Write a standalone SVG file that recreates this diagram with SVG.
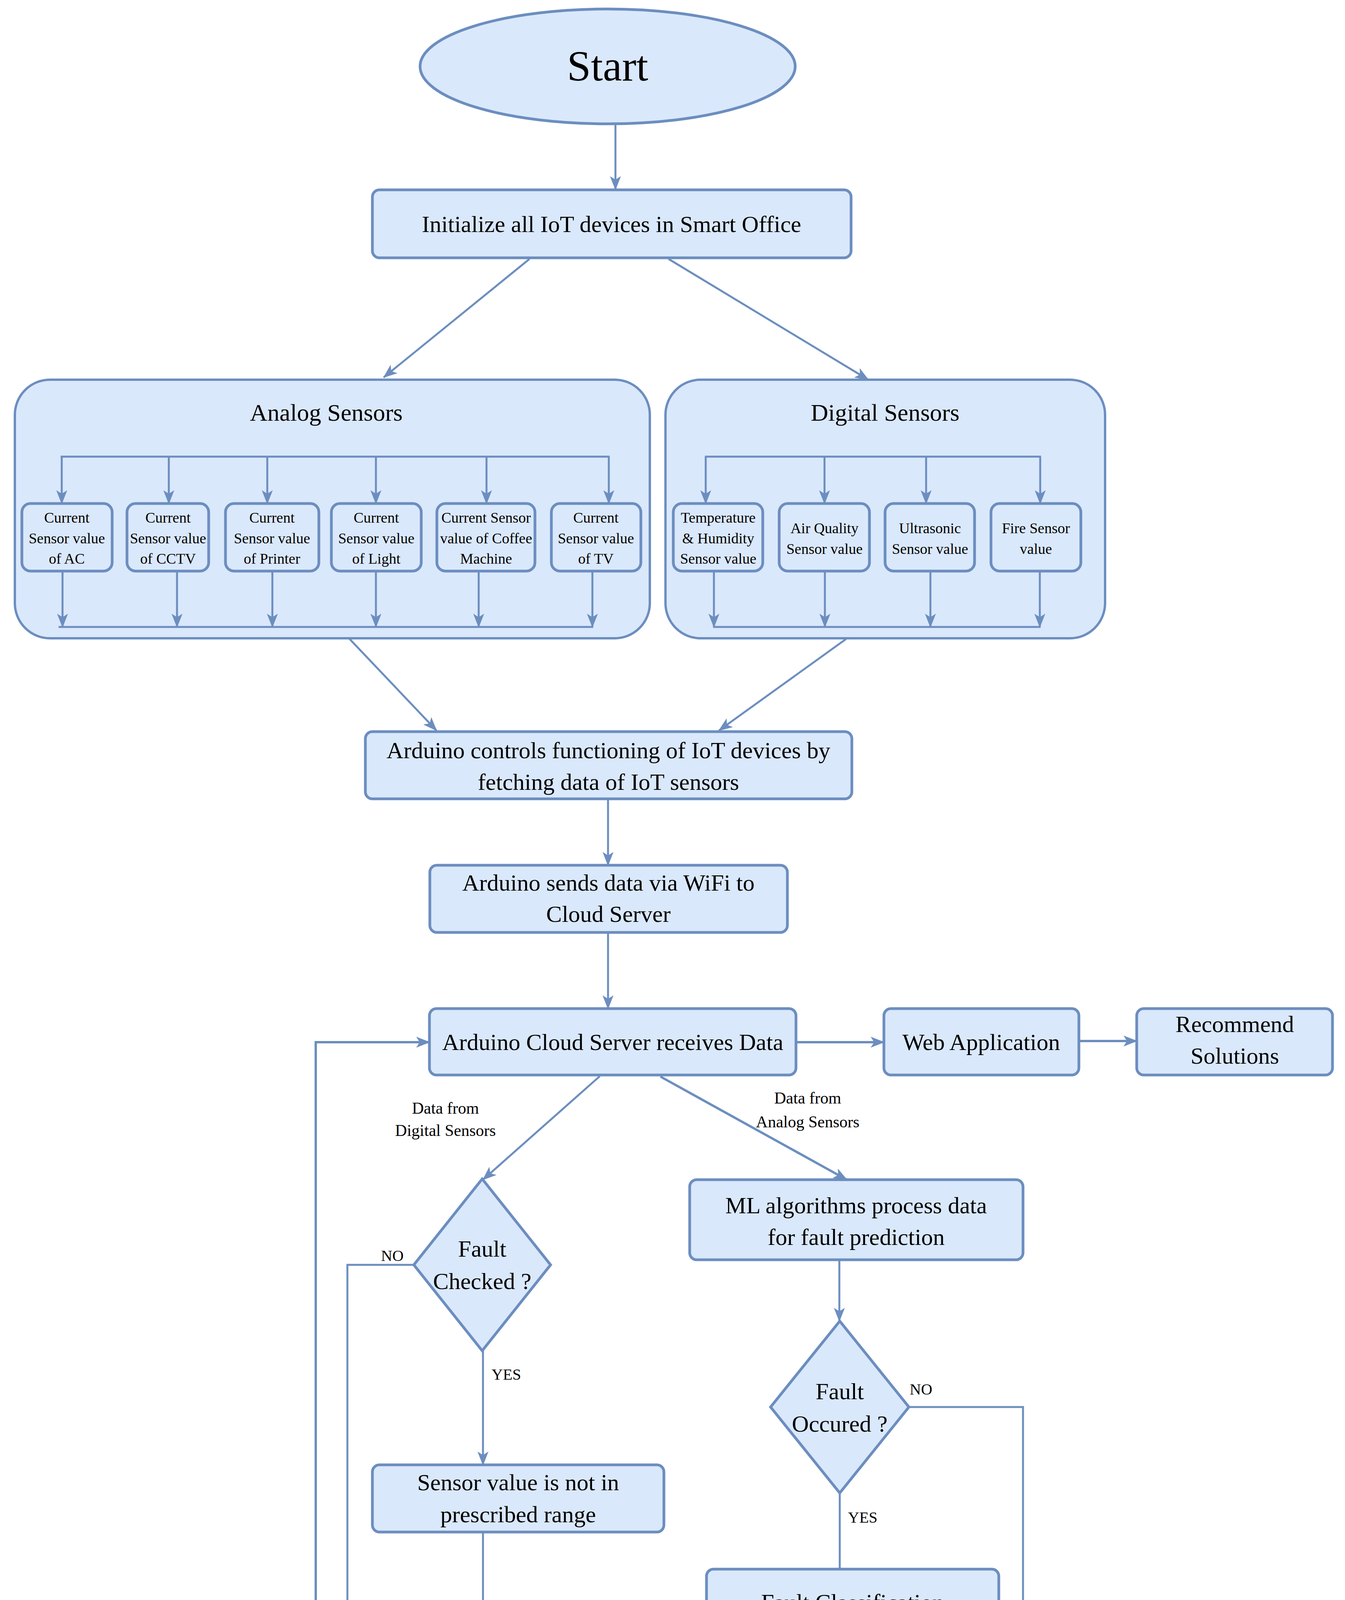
<svg xmlns="http://www.w3.org/2000/svg" width="3442" height="4555" viewBox="0 0 3442 4555">
<style>
.n{fill:#dae8fc;stroke:#6c8ebf;stroke-width:7}
.c{fill:#dae8fc;stroke:#6c8ebf;stroke-width:6}
.e{fill:none;stroke:#6c8ebf;stroke-width:5}
.t{font-family:"Liberation Serif",serif;fill:#000;text-anchor:middle}
.m{font-size:60px}
.s{font-size:38px}
.h{font-size:62px}
.l{font-size:42px}
.y{font-size:40px}
</style>
<defs>
<marker id="a" viewBox="0 0 36 28" refX="34" refY="14" markerWidth="36" markerHeight="28" markerUnits="userSpaceOnUse" orient="auto">
<path d="M0,0 L36,14 L0,28 L9,14 Z" fill="#6c8ebf"/>
</marker>
</defs>
<rect width="3442" height="4555" fill="#fff"/>

<g id="analog-container">
<rect class="c" x="38" y="972" width="1625" height="662" rx="90"/>
<text class="t h" x="835" y="1077">Analog Sensors</text>
</g>
<g id="digital-container">
<rect class="c" x="1703" y="972" width="1125" height="662" rx="90"/>
<text class="t h" x="2265" y="1077">Digital Sensors</text>
</g>

<g id="connectors">
<path class="e" d="M1575,318 L1575,485" marker-end="url(#a)"/>
<path class="e" d="M1355,663 L982,966" marker-end="url(#a)"/>
<path class="e" d="M1711,663 L2222,972" marker-end="url(#a)"/>
<!-- analog bus -->
<path class="e" d="M155,1169 L1560,1169"/>
<path class="e" d="M158,1169 L158,1289" marker-end="url(#a)"/>
<path class="e" d="M432,1169 L432,1289" marker-end="url(#a)"/>
<path class="e" d="M684,1169 L684,1289" marker-end="url(#a)"/>
<path class="e" d="M962,1169 L962,1289" marker-end="url(#a)"/>
<path class="e" d="M1245,1169 L1245,1289" marker-end="url(#a)"/>
<path class="e" d="M1558,1169 L1558,1289" marker-end="url(#a)"/>
<path class="e" d="M160,1462 L160,1605" marker-end="url(#a)"/>
<path class="e" d="M453,1462 L453,1605" marker-end="url(#a)"/>
<path class="e" d="M697,1462 L697,1605" marker-end="url(#a)"/>
<path class="e" d="M962,1462 L962,1605" marker-end="url(#a)"/>
<path class="e" d="M1225,1462 L1225,1605" marker-end="url(#a)"/>
<path class="e" d="M1516,1462 L1516,1605" marker-end="url(#a)"/>
<path class="e" d="M150,1605 L1518,1605"/>
<!-- digital bus -->
<path class="e" d="M1804,1169 L2664,1169"/>
<path class="e" d="M1806,1169 L1806,1289" marker-end="url(#a)"/>
<path class="e" d="M2110,1169 L2110,1289" marker-end="url(#a)"/>
<path class="e" d="M2370,1169 L2370,1289" marker-end="url(#a)"/>
<path class="e" d="M2662,1169 L2662,1289" marker-end="url(#a)"/>
<path class="e" d="M1827,1462 L1827,1605" marker-end="url(#a)"/>
<path class="e" d="M2111,1462 L2111,1605" marker-end="url(#a)"/>
<path class="e" d="M2381,1462 L2381,1605" marker-end="url(#a)"/>
<path class="e" d="M2661,1462 L2661,1605" marker-end="url(#a)"/>
<path class="e" d="M1825,1605 L2663,1605"/>
<!-- to arduino -->
<path class="e" d="M893,1634 L1117,1870" marker-end="url(#a)"/>
<path class="e" d="M2165,1636 L1840,1870" marker-end="url(#a)"/>
<path class="e" d="M1556,2045 L1556,2215" marker-end="url(#a)"/>
<path class="e" d="M1556,2387 L1556,2582" marker-end="url(#a)"/>
<path class="e" d="M2037,2668 L2262,2668" style="stroke-width:6" marker-end="url(#a)"/>
<path class="e" d="M2761,2665 L2909,2665" style="stroke-width:6" marker-end="url(#a)"/>
<path class="e" d="M1079,4489 L808,4489 L808,2668 L1099,2668" style="stroke-width:6" marker-end="url(#a)"/>
<path class="e" d="M1535,2755 L1236,3020" marker-end="url(#a)"/>
<path class="e" d="M1690,2756 L2167,3020" style="stroke-width:6" marker-end="url(#a)"/>
<path class="e" d="M1059,3238 L889,3238 L889,4400 L1079,4400" marker-end="url(#a)"/>
<path class="e" d="M1236,3458 L1236,3750" marker-end="url(#a)"/>
<path class="e" d="M1236,3922 L1236,4357" marker-end="url(#a)"/>
<path class="e" d="M2148,3225 L2148,3382" marker-end="url(#a)"/>
<path class="e" d="M2326,3602 L2618,3602 L2618,4430 L2056,4430" marker-end="url(#a)"/>
<path class="e" d="M2149,3822 L2149,4017"/>
<path class="e" d="M1975,4187 L1975,4357" marker-end="url(#a)"/>
<text class="t l" x="1140" y="2851">Data from</text>
<text class="t l" x="1140" y="2908">Digital Sensors</text>
<text class="t l" x="2067" y="2825">Data from</text>
<text class="t l" x="2067" y="2886">Analog Sensors</text>
<text class="t y" x="1004" y="3228">NO</text>
<text class="t y" x="1258" y="3532" style="text-anchor:start">YES</text>
<text class="t y" x="2357" y="3570">NO</text>
<text class="t y" x="2170" y="3898" style="text-anchor:start">YES</text>
</g>

<g id="start">
<ellipse class="n" cx="1555" cy="170" rx="480" ry="147"/>
<text class="t" x="1555" y="206" style="font-size:110px">Start</text>
</g>
<g id="init">
<rect class="n" x="953" y="486" width="1225" height="174" rx="18"/>
<text class="t m" x="1565" y="594">Initialize all IoT devices in Smart Office</text>
</g>

<g id="ac"><rect class="n" x="56" y="1289" width="231" height="173" rx="22"/>
<text class="t s" x="171" y="1338">Current</text><text class="t s" x="171" y="1391">Sensor value</text><text class="t s" x="171" y="1443">of AC</text></g>
<g id="cctv"><rect class="n" x="325" y="1289" width="209" height="173" rx="22"/>
<text class="t s" x="430" y="1338">Current</text><text class="t s" x="430" y="1391">Sensor value</text><text class="t s" x="430" y="1443">of CCTV</text></g>
<g id="printer"><rect class="n" x="577" y="1289" width="239" height="173" rx="22"/>
<text class="t s" x="696" y="1338">Current</text><text class="t s" x="696" y="1391">Sensor value</text><text class="t s" x="696" y="1443">of Printer</text></g>
<g id="light"><rect class="n" x="848" y="1289" width="230" height="173" rx="22"/>
<text class="t s" x="963" y="1338">Current</text><text class="t s" x="963" y="1391">Sensor value</text><text class="t s" x="963" y="1443">of Light</text></g>
<g id="coffee"><rect class="n" x="1118" y="1289" width="251" height="173" rx="22"/>
<text class="t s" x="1244" y="1338">Current Sensor</text><text class="t s" x="1244" y="1391">value of Coffee</text><text class="t s" x="1244" y="1443">Machine</text></g>
<g id="tv"><rect class="n" x="1411" y="1289" width="229" height="173" rx="22"/>
<text class="t s" x="1525" y="1338">Current</text><text class="t s" x="1525" y="1391">Sensor value</text><text class="t s" x="1525" y="1443">of TV</text></g>

<g id="temp"><rect class="n" x="1723" y="1289" width="229" height="173" rx="22"/>
<text class="t s" x="1838" y="1338">Temperature</text><text class="t s" x="1838" y="1391">&amp; Humidity</text><text class="t s" x="1838" y="1443">Sensor value</text></g>
<g id="air"><rect class="n" x="1994" y="1289" width="231" height="173" rx="22"/>
<text class="t s" x="2110" y="1365">Air Quality</text><text class="t s" x="2110" y="1418">Sensor value</text></g>
<g id="ultra"><rect class="n" x="2265" y="1289" width="229" height="173" rx="22"/>
<text class="t s" x="2380" y="1365">Ultrasonic</text><text class="t s" x="2380" y="1418">Sensor value</text></g>
<g id="fire"><rect class="n" x="2536" y="1289" width="230" height="173" rx="22"/>
<text class="t s" x="2651" y="1365">Fire Sensor</text><text class="t s" x="2651" y="1418">value</text></g>

<g id="arduino"><rect class="n" x="935" y="1873" width="1245" height="172" rx="18"/>
<text class="t m" x="1557" y="1941">Arduino controls functioning of IoT devices by</text>
<text class="t m" x="1557" y="2022">fetching data of IoT sensors</text></g>
<g id="sends"><rect class="n" x="1100" y="2215" width="915" height="172" rx="18"/>
<text class="t m" x="1557" y="2280">Arduino sends data via WiFi to</text>
<text class="t m" x="1557" y="2360">Cloud Server</text></g>
<g id="cloud"><rect class="n" x="1099" y="2582" width="938" height="170" rx="18"/>
<text class="t m" x="1568" y="2688">Arduino Cloud Server receives Data</text></g>
<g id="web"><rect class="n" x="2262" y="2582" width="499" height="170" rx="18"/>
<text class="t m" x="2511" y="2688">Web Application</text></g>
<g id="recommend"><rect class="n" x="2909" y="2582" width="501" height="170" rx="18"/>
<text class="t m" x="3160" y="2642">Recommend</text>
<text class="t m" x="3160" y="2723">Solutions</text></g>

<g id="fault-checked"><polygon class="n" points="1234,3018 1409,3238 1234,3458 1059,3238"/>
<text class="t m" x="1234" y="3217">Fault</text>
<text class="t m" x="1234" y="3300">Checked ?</text></g>
<g id="ml"><rect class="n" x="1765" y="3020" width="853" height="205" rx="18"/>
<text class="t m" x="2191" y="3106">ML algorithms process data</text>
<text class="t m" x="2191" y="3187">for fault prediction</text></g>
<g id="fault-occured"><polygon class="n" points="2149,3382 2326,3602 2149,3822 1972,3602"/>
<text class="t m" x="2149" y="3582">Fault</text>
<text class="t m" x="2149" y="3665">Occured ?</text></g>
<g id="sensor-range"><rect class="n" x="953" y="3750" width="746" height="172" rx="18"/>
<text class="t m" x="1326" y="3815">Sensor value is not in</text>
<text class="t m" x="1326" y="3897">prescribed range</text></g>
<g id="classification"><rect class="n" x="1808" y="4017" width="748" height="170" rx="18"/>
<text class="t m" x="2182" y="4122">Fault Classification</text></g>
<g id="final"><rect class="n" x="1079" y="4357" width="977" height="172" rx="18"/>
<text class="t m" x="1567" y="4422">Final Accumulated Data saved in</text>
<text class="t m" x="1567" y="4503">Cloud Database</text></g>
</svg>
